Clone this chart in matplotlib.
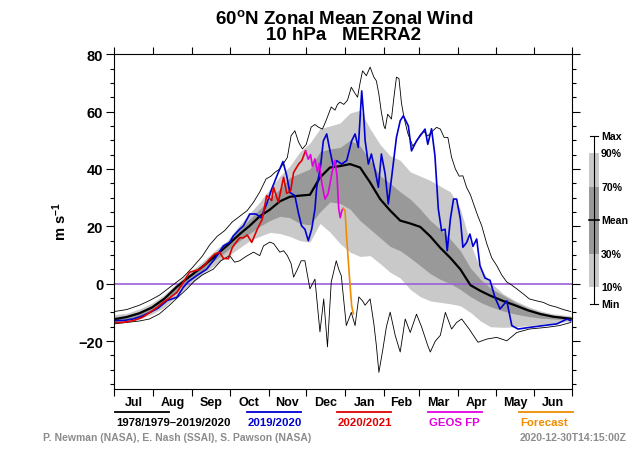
import matplotlib
matplotlib.use("Agg")
import matplotlib.pyplot as plt
from matplotlib.lines import Line2D
from matplotlib.patches import Rectangle

plt.rcParams['font.family'] = ['Liberation Sans', 'DejaVu Sans']
plt.rcParams['font.weight'] = 'bold'
plt.rcParams['mathtext.fontset'] = 'custom'
plt.rcParams['mathtext.bf'] = 'Liberation Sans:bold'
plt.rcParams['mathtext.rm'] = 'Liberation Sans:bold'
plt.rcParams['mathtext.default'] = 'bf'

# days since Jul 1
months = ["Jul", "Aug", "Sep", "Oct", "Nov", "Dec", "Jan", "Feb", "Mar", "Apr", "May", "Jun"]
month_days = [31, 31, 30, 31, 30, 31, 31, 28, 31, 30, 31, 30]

# climatology 1978/1979-2019/2020 (percentiles on a common day grid)
clim_day = [0, 10, 20, 30, 40, 50, 60, 70, 80, 90, 100, 108, 116, 124, 132, 140, 148, 156,
            164, 172, 180, 188, 196, 204, 212, 220, 228, 236, 244, 252, 260, 268, 276, 284,
            292, 300, 310, 320, 330, 340, 350, 364]
clim_mean = [-12.4, -11.6, -10.3, -8.3, -5.2, -1.0, 2.5, 5.8, 9.5, 13.3, 17.3, 20.2, 23.5, 25.8,
             28.7, 30.3, 30.7, 31.0, 37.0, 40.5, 41.0, 41.7, 40.5, 35.3, 29.5, 25.5, 22.0, 21.0,
             19.8, 16.5, 12.5, 9.0, 5.0, -0.5, -2.5, -4.2, -6.0, -7.6, -9.3, -10.6, -11.5, -12.2]
clim_p90 = [-10.8, -10.3, -8.8, -6.8, -3.8, 0.3, 4.0, 7.5, 11.5, 15.0, 20.5, 24.5, 28.5, 33.0,
            37.5, 41.0, 46.0, 49.0, 54.0, 55.0, 56.0, 59.5, 60.5, 54.0, 48.5, 44.6, 43.0, 39.0,
            37.5, 36.0, 34.0, 32.0, 26.0, 14.0, 5.0, 0.5, -3.5, -6.0, -8.0, -9.5, -10.5, -11.2]
clim_p70 = [-11.6, -11.0, -9.7, -7.6, -4.6, -0.4, 3.2, 6.6, 10.5, 14.2, 19.0, 22.5, 26.0, 29.5,
            33.0, 37.0, 38.5, 40.0, 46.0, 47.0, 47.5, 50.0, 48.0, 43.0, 37.6, 35.0, 32.0, 29.5,
            26.0, 22.0, 19.0, 15.5, 11.5, 5.5, 1.5, -1.5, -4.0, -6.5, -8.5, -10.0, -11.0, -11.8]
clim_p30 = [-13.0, -12.4, -11.5, -9.6, -6.8, -2.4, 1.2, 4.6, 8.2, 11.5, 15.0, 17.5, 20.0, 22.0,
            23.5, 23.0, 21.0, 20.5, 25.0, 28.5, 28.0, 26.0, 22.0, 19.0, 16.0, 13.0, 11.5, 9.0,
            6.3, 3.5, 1.5, 0.0, -2.0, -4.5, -6.5, -8.0, -9.5, -10.6, -11.4, -12.0, -12.3, -12.6]
clim_p10 = [-13.8, -13.2, -12.3, -10.6, -8.2, -4.0, -0.5, 3.0, 6.5, 9.5, 12.5, 15.0, 16.5, 17.9,
            17.5, 16.5, 15.0, 14.5, 21.0, 18.0, 14.0, 11.0, 9.5, 9.8, 7.0, 4.0, 2.0, -2.0,
            -4.5, -6.0, -6.5, -7.0, -7.7, -10.0, -13.0, -15.0, -15.2, -15.0, -14.6, -14.2, -13.8, -13.0]

max_day = [0, 10, 20, 28, 36, 45, 55, 62, 70, 76, 82, 88, 94, 100, 106, 111, 116, 121, 125, 128,
           132, 135, 138, 141, 144, 147, 150, 153, 157, 160, 163, 166, 169, 173, 176, 178, 180,
           183, 186, 189, 191, 194, 196, 198, 201, 204, 207, 209, 211, 213, 215, 216, 218, 221,
           223, 225, 227, 229, 231, 234, 238, 241, 244, 247, 250, 254, 257, 260, 263, 266, 269,
           272, 275, 278, 281, 284, 287, 290, 293, 297, 301, 305, 309, 313, 317, 321, 326, 331,
           337, 342, 347, 353, 358, 364]
max_val = [-9.7, -9.0, -7.5, -5.9, -4.0, -1.0, 2.3, 5.5, 9.5, 13.5, 16.5, 18.5, 21.5, 23.5, 25.5,
           28.4, 32.0, 36.5, 37.5, 38.8, 40.0, 42.0, 44.0, 51.6, 53.3, 49.3, 47.0, 48.5, 54.6,
           55.5, 54.5, 53.9, 57.0, 61.6, 60.5, 62.5, 63.3, 62.5, 64.0, 68.5, 67.0, 65.0, 70.0,
           74.2, 72.5, 75.5, 72.0, 70.7, 66.0, 59.7, 55.0, 54.0, 59.1, 57.4, 65.0, 72.0, 71.5,
           63.0, 58.0, 52.5, 48.0, 49.5, 52.0, 53.0, 51.5, 53.3, 54.5, 53.9, 51.0, 51.0, 44.0,
           40.0, 37.5, 37.6, 33.5, 31.0, 27.2, 23.5, 20.2, 14.0, 9.0, 6.3, 3.0, 0.6, -0.5, -1.8,
           -3.5, -5.3, -6.0, -6.5, -7.5, -8.2, -9.0, -9.7]

min_day = [0, 10, 20, 28, 36, 44, 50, 58, 64, 70, 79, 85, 92, 96, 100, 105, 111, 116, 119, 124,
           127, 132, 135, 138, 141, 143, 146, 149, 152, 156, 160, 164, 167, 170, 173, 177, 179,
           181, 185, 189, 192, 195, 198, 200, 204, 207, 209, 211, 214, 217, 220, 224, 228, 232,
           236, 241, 245, 250, 252, 256, 260, 264, 269, 273, 277, 283, 290, 297, 305, 313, 321,
           331, 345, 355, 364]
min_val = [-14.0, -13.5, -13.0, -12.3, -10.5, -7.5, -5.0, -1.8, 1.0, 3.0, 5.1, 8.0, 9.8, 7.5, 8.0,
           9.5, 11.0, 9.8, 13.2, 14.5, 14.0, 11.0, 11.5, 9.8, 7.0, 2.3, 5.0, 8.0, 8.0, -1.8, 1.6,
           -16.8, -5.3, -22.0, 0.6, 8.0, 5.0, 2.8, -14.6, -10.0, -14.6, -4.6, -6.0, -7.5, -5.3,
           -14.0, -21.6, -30.9, -23.3, -15.0, -9.9, -18.0, -23.8, -12.3, -17.0, -10.6, -15.0,
           -21.6, -23.8, -20.0, -18.0, -10.0, -15.8, -13.5, -12.3, -15.8, -20.4, -19.3, -18.7,
           -19.9, -17.0, -15.8, -15.2, -14.6, -13.5]

# 2019/2020
y1920_day = [0, 8, 15, 22, 28.5, 35, 42, 50, 55, 59, 65.7, 73.7, 80, 87, 92, 95, 100, 103, 108,
             113, 117, 121.5, 125.5, 130.8, 134.5, 137.5, 140, 144, 146.7, 149.3, 152, 154.7,
             157.4, 160, 161.4, 164.5, 166.7, 169.4, 172, 174.8, 177.4, 181.3, 185.3, 189.3, 192,
             194.6, 197.3, 199, 200, 202.6, 205, 208, 210.6, 213, 216, 218.5, 221, 225, 228,
             230.5, 234.5, 237, 241, 245, 247.8, 250, 253, 255.7, 258.4, 261, 263.8, 265.5, 268,
             270.5, 273, 276, 278, 281, 283.6, 286, 289, 291.6, 295.6, 299.6, 303.6, 307.6, 313,
             317, 322, 331.5, 342, 353, 361, 364]
y1920_val = [-12.9, -12.8, -12.3, -11.3, -10.0, -8.5, -5.9, -4.7, -1.3, 0.7, 2.8, 5.1, 8.6, 13.2,
             14.4, 16.7, 19.0, 20.2, 24.3, 24.3, 23.0, 27.8, 33.0, 38.8, 42.6, 37.6, 31.8, 30.7,
             24.9, 20.2, 19.0, 15.0, 19.0, 26.0, 33.6, 41.0, 49.8, 52.2, 46.3, 40.6, 42.9, 41.7,
             42.9, 49.8, 52.2, 47.5, 67.2, 58.0, 50.0, 41.7, 45.2, 39.4, 33.6, 45.2, 38.2, 27.8,
             36.5, 51.0, 56.8, 58.5, 55.0, 46.3, 49.8, 52.2, 53.9, 48.6, 54.0, 44.6, 26.0, 18.5,
             19.0, 11.5, 22.5, 29.5, 29.5, 22.5, 12.7, 14.4, 17.3, 13.0, 15.6, 6.3, 2.0, 1.2,
             -4.8, -8.8, -6.0, -14.6, -15.8, -15.2, -14.6, -14.0, -12.3, -12.9]

# 2020/2021 (MERRA2)
y2021_day = [0, 8, 15, 22, 28.5, 34, 39, 44, 50, 55, 60, 64, 68, 72, 76, 80, 84, 87, 91, 94, 96,
             100, 103, 106, 109.6, 114, 118, 121.5, 125.5, 127, 130.8, 135, 137.5, 140.6, 143,
             147, 149.5, 152.5]
y2021_val = [-13.6, -13.4, -12.9, -11.8, -10.0, -8.3, -6.5, -5.0, -3.0, 0.5, 4.0, 4.5, 5.0, 6.5,
             8.6, 10.3, 11.0, 8.8, 8.7, 12.5, 13.8, 16.0, 16.0, 17.0, 14.4, 19.0, 22.5, 30.7,
             29.0, 33.6, 28.4, 37.1, 31.5, 32.4, 38.8, 41.7, 42.9, 46.3]

# GEOS FP analysis
geos_day = [152.5, 154.7, 156.5, 158, 160, 162, 163.5, 165.5, 168, 170.6, 173.5, 176, 177.6, 179,
            180.2, 181.5, 182.5]
geos_val = [46.3, 43.4, 45.0, 41.0, 43.5, 39.0, 42.0, 35.0, 29.5, 31.5, 38.5, 43.0, 37.5, 26.0,
            23.0, 25.5, 26.2]

# forecast
fc_day = [182.5, 184, 185.3, 186.6, 188, 189.3, 190.6]
fc_val = [26.2, 25.5, 16.0, 8.0, -0.5, -7.7, -10.5]

legend_labels = ["1978/1979\u20132019/2020", "2019/2020", "2020/2021", "GEOS FP", "Forecast"]
legend_colors = ["black", "#0000d0", "#e00000", "#e000e0", "#f08c00"]
pct_labels = ["Max", "90%", "70%", "Mean", "30%", "10%", "Min"]

light = "#c9c9c9"
dark = "#999999"

W, H = 640, 460
fig = plt.figure(figsize=(6.4, 4.6), dpi=100)


def fx(x):
    return x / W


def fy(y):
    return 1 - y / H


ax = fig.add_axes([fx(114.3), fy(390), fx(572) - fx(114.3), fy(55.2) - fy(390)])

ax.fill_between(clim_day, clim_p10, clim_p90, color=light, lw=0)
ax.fill_between(clim_day, clim_p30, clim_p70, color=dark, lw=0)
ax.axhline(0, color="#9b5fd8", lw=1.2)
ax.plot(max_day, max_val, color="black", lw=0.6)
ax.plot(min_day, min_val, color="black", lw=0.6)
ax.plot(clim_day, clim_mean, color="black", lw=1.6)
ax.plot(y1920_day, y1920_val, color=legend_colors[1], lw=1.2)
ax.plot(y2021_day, y2021_val, color=legend_colors[2], lw=1.2)
ax.plot(geos_day, geos_val, color=legend_colors[3], lw=1.2)
ax.plot(fc_day, fc_val, color=legend_colors[4], lw=1.2)

edges = [0]
for d in month_days:
    edges.append(edges[-1] + d)
mids = [(edges[i] + edges[i + 1]) / 2 for i in range(12)]

ax.set_xlim(0, 365)
ax.set_ylim(-36.7, 80)
ax.set_xticks(edges)
ax.set_xticklabels([])
ax.set_xticks(mids, minor=True)
ax.set_xticklabels(months, minor=True, fontsize=9, fontweight="bold")
ax.tick_params(axis="x", which="major", direction="out", length=5, width=0.8, top=True)
ax.tick_params(axis="x", which="minor", length=0, pad=5)

ax.set_yticks([-20, 0, 20, 40, 60, 80])
ax.set_yticks([v for v in range(-35, 80, 5) if v % 20 != 0], minor=True)
ax.tick_params(axis="y", which="major", direction="out", length=6, width=0.8, right=True,
               labelsize=10.5, pad=2)
ax.tick_params(axis="y", which="minor", direction="out", length=3.2, width=0.8, right=True)
for lab in ax.get_yticklabels():
    lab.set_fontweight("bold")
for s in ax.spines.values():
    s.set_linewidth(0.8)

# titles
fig.text(fx(344), fy(19), "60$^{o}$N Zonal Mean Zonal Wind", ha="center", va="center",
         fontsize=13.5, fontweight="bold")
fig.text(fx(344), fy(36), "10 hPa   MERRA2", ha="center", va="center",
         fontsize=13.5, fontweight="bold")
fig.text(fx(60), fy(222), "m s$^{-1}$", rotation=90, ha="center", va="center",
         fontsize=10.5, fontweight="bold")

# percentile key on the right
box_x, box_w = 589, 10
key_y = [136.7, 154, 187.7, 220.7, 255, 288.3, 305.3]
fig.add_artist(Line2D([fx(box_x + box_w / 2)] * 2, [fy(key_y[0]), fy(key_y[6])],
                      transform=fig.transFigure, color="black", lw=0.8))
for yy in (key_y[0], key_y[6]):
    fig.add_artist(Line2D([fx(box_x + 1), fx(box_x + box_w - 1)], [fy(yy)] * 2,
                          transform=fig.transFigure, color="black", lw=0.8))
fig.add_artist(Rectangle((fx(box_x), fy(key_y[5])), fx(box_w), fy(key_y[1]) - fy(key_y[5]),
                         transform=fig.transFigure, color=light, lw=0))
fig.add_artist(Rectangle((fx(box_x), fy(key_y[4])), fx(box_w), fy(key_y[2]) - fy(key_y[4]),
                         transform=fig.transFigure, color=dark, lw=0))
fig.add_artist(Line2D([fx(box_x), fx(box_x + box_w)], [fy(key_y[3])] * 2,
                      transform=fig.transFigure, color="black", lw=1.2))
for lab, yy in zip(pct_labels, key_y):
    fig.text(fx(601), fy(yy), lab, ha="left", va="center", fontsize=7.6, fontweight="bold")

# line key at the bottom
key_x = [115, 247, 337, 428, 519]
for x0, lab, col in zip(key_x, legend_labels, legend_colors):
    fig.add_artist(Line2D([fx(x0), fx(x0 + 54)], [fy(413)] * 2, transform=fig.transFigure,
                          color=col, lw=1.3))
    fig.text(fx(x0 + 1), fy(423), lab, ha="left", va="center", color=col,
             fontsize=8.2, fontweight="bold")

fig.text(fx(43), fy(438), "P. Newman (NASA), E. Nash (SSAI), S. Pawson (NASA)", ha="left",
         va="center", color="#8c8c8c", fontsize=7.5, fontweight="bold")
fig.text(fx(627), fy(438), "2020-12-30T14:15:00Z", ha="right", va="center",
         color="#8c8c8c", fontsize=7.5, fontweight="bold")

fig.savefig("out.png", dpi=100)
